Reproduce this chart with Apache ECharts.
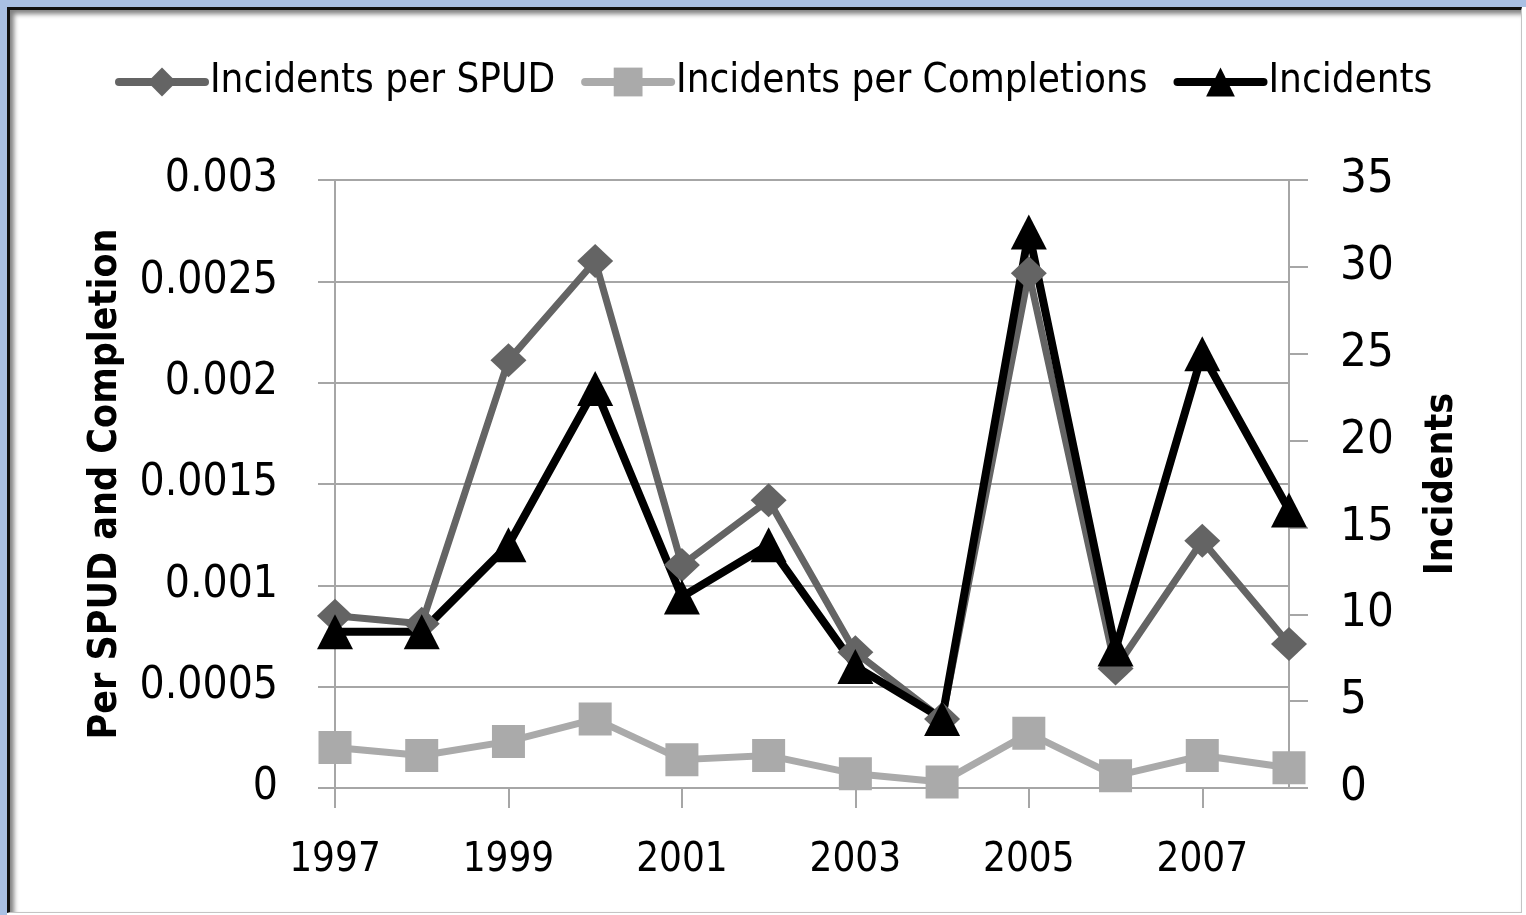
<!DOCTYPE html>
<html>
<head>
<meta charset="utf-8">
<script src="https://cdn.jsdelivr.net/npm/echarts@6/dist/echarts.min.js"></script>
<style>
  html, body { margin: 0; padding: 0; }
  body { width: 1526px; height: 915px; background: #fff; position: relative; overflow: hidden; }
  .outer {
    position: absolute; left: 0; top: 0; width: 1519px; height: 908px;
    border-left: 7px solid #a9c0e4; border-top: 7px solid #a9c0e4;
    background: #fff;
  }
  .frame {
    position: absolute; left: 0; top: 0; width: 1511px; height: 902px;
    background: #fff;
    border-left: 3px solid #111; border-top: 3px solid #111;
    border-right: 1px solid #c4c4c4; border-bottom: 1px solid #c4c4c4;
    box-shadow: inset 4px 4px 5px #808080;
  }
  #chart { position: absolute; left: 0; top: 0; width: 1526px; height: 915px; }
</style>
</head>
<body>
<div class="outer"><div class="frame"></div></div>
<div id="chart"></div>
<script>
// 年份
var years = ['1997', '1998', '1999', '2000', '2001', '2002', '2003', '2004', '2005', '2006', '2007', '2008']
// 每个SPUD的事故数
var perSpud = [0.00085, 0.00081, 0.00211, 0.0026, 0.0011, 0.00142, 0.00067, 0.00034, 0.00254, 0.00059, 0.00122, 0.00071]
// 每个完井的事故数
var perCompletion = [0.00020, 0.00016, 0.00023, 0.00034, 0.00014, 0.00016, 0.00007, 0.00003, 0.00027, 0.00006, 0.00016, 0.00010]
// 事故数
var incidents = [9, 9, 14, 23, 11, 14, 7, 4, 32, 8, 25, 16]

var font = "'DejaVu Sans Condensed', 'Liberation Sans Narrow', sans-serif"
var gridColor = '#a6a6a6'

var myChart = echarts.init(document.getElementById('chart'))
var option = {
  backgroundColor: 'transparent',
  animation: false,
  legend: {
    left: 110,
    top: 57,
    itemWidth: 86,
    itemHeight: 36,
    itemGap: 26,
    lineStyle: { width: 8, cap: 'round' },
    textStyle: { fontFamily: font, fontSize: 40, color: '#000' },
    data: ['Incidents per SPUD', 'Incidents per Completions', 'Incidents']
  },
  grid: {
    left: 335,
    right: 237,
    top: 180,
    bottom: 127
  },
  xAxis: {
    type: 'category',
    boundaryGap: false,
    data: years,
    axisLine: { show: true, lineStyle: { color: gridColor, width: 2 } },
    axisTick: { show: true, interval: 1, length: 20, lineStyle: { color: gridColor, width: 2 } },
    axisLabel: { interval: 1, margin: 53, fontFamily: font, fontSize: 40, color: '#000' },
    splitLine: { show: false }
  },
  yAxis: [
    {
      type: 'value',
      min: 0,
      max: 0.003,
      interval: 0.0005,
      name: 'Per SPUD and Completion',
      nameLocation: 'middle',
      nameGap: 210,
      nameMoveOverlap: false,
      nameTextStyle: { fontFamily: font, fontSize: 39, fontWeight: 'bold', color: '#000' },
      axisLine: { show: true, lineStyle: { color: gridColor, width: 2 } },
      axisTick: { show: true, length: 17, lineStyle: { color: gridColor, width: 2 } },
      axisLabel: { margin: 57, fontFamily: font, fontSize: 44, color: '#000' },
      splitLine: { show: true, lineStyle: { color: gridColor, width: 2 } }
    },
    {
      type: 'value',
      min: 0,
      max: 35,
      interval: 5,
      name: 'Incidents',
      nameLocation: 'middle',
      nameGap: 133,
      nameRotate: 90,
      nameMoveOverlap: false,
      nameTextStyle: { fontFamily: font, fontSize: 39, fontWeight: 'bold', color: '#000' },
      axisLine: { show: true, lineStyle: { color: gridColor, width: 2 } },
      axisTick: { show: true, length: 19, lineStyle: { color: gridColor, width: 2 } },
      axisLabel: { margin: 51, fontFamily: font, fontSize: 47, color: '#000' },
      splitLine: { show: false }
    }
  ],
  series: [
    {
      name: 'Incidents per SPUD',
      type: 'line',
      yAxisIndex: 0,
      data: perSpud,
      symbol: 'diamond',
      symbolSize: [36, 34],
      color: '#646464',
      lineStyle: { width: 7, color: '#646464' },
      itemStyle: { color: '#646464' }
    },
    {
      name: 'Incidents per Completions',
      type: 'line',
      yAxisIndex: 0,
      data: perCompletion,
      symbol: 'rect',
      symbolSize: 33,
      color: '#aaaaaa',
      lineStyle: { width: 7, color: '#aaaaaa' },
      itemStyle: { color: '#aaaaaa' }
    },
    {
      name: 'Incidents',
      type: 'line',
      yAxisIndex: 1,
      data: incidents,
      symbol: 'triangle',
      symbolSize: [36, 35],
      color: '#000',
      lineStyle: { width: 8, color: '#000' },
      itemStyle: { color: '#000' }
    }
  ]
}
myChart.setOption(option)
window.addEventListener('resize', function () {
  myChart.resize()
})
</script>
</body>
</html>
